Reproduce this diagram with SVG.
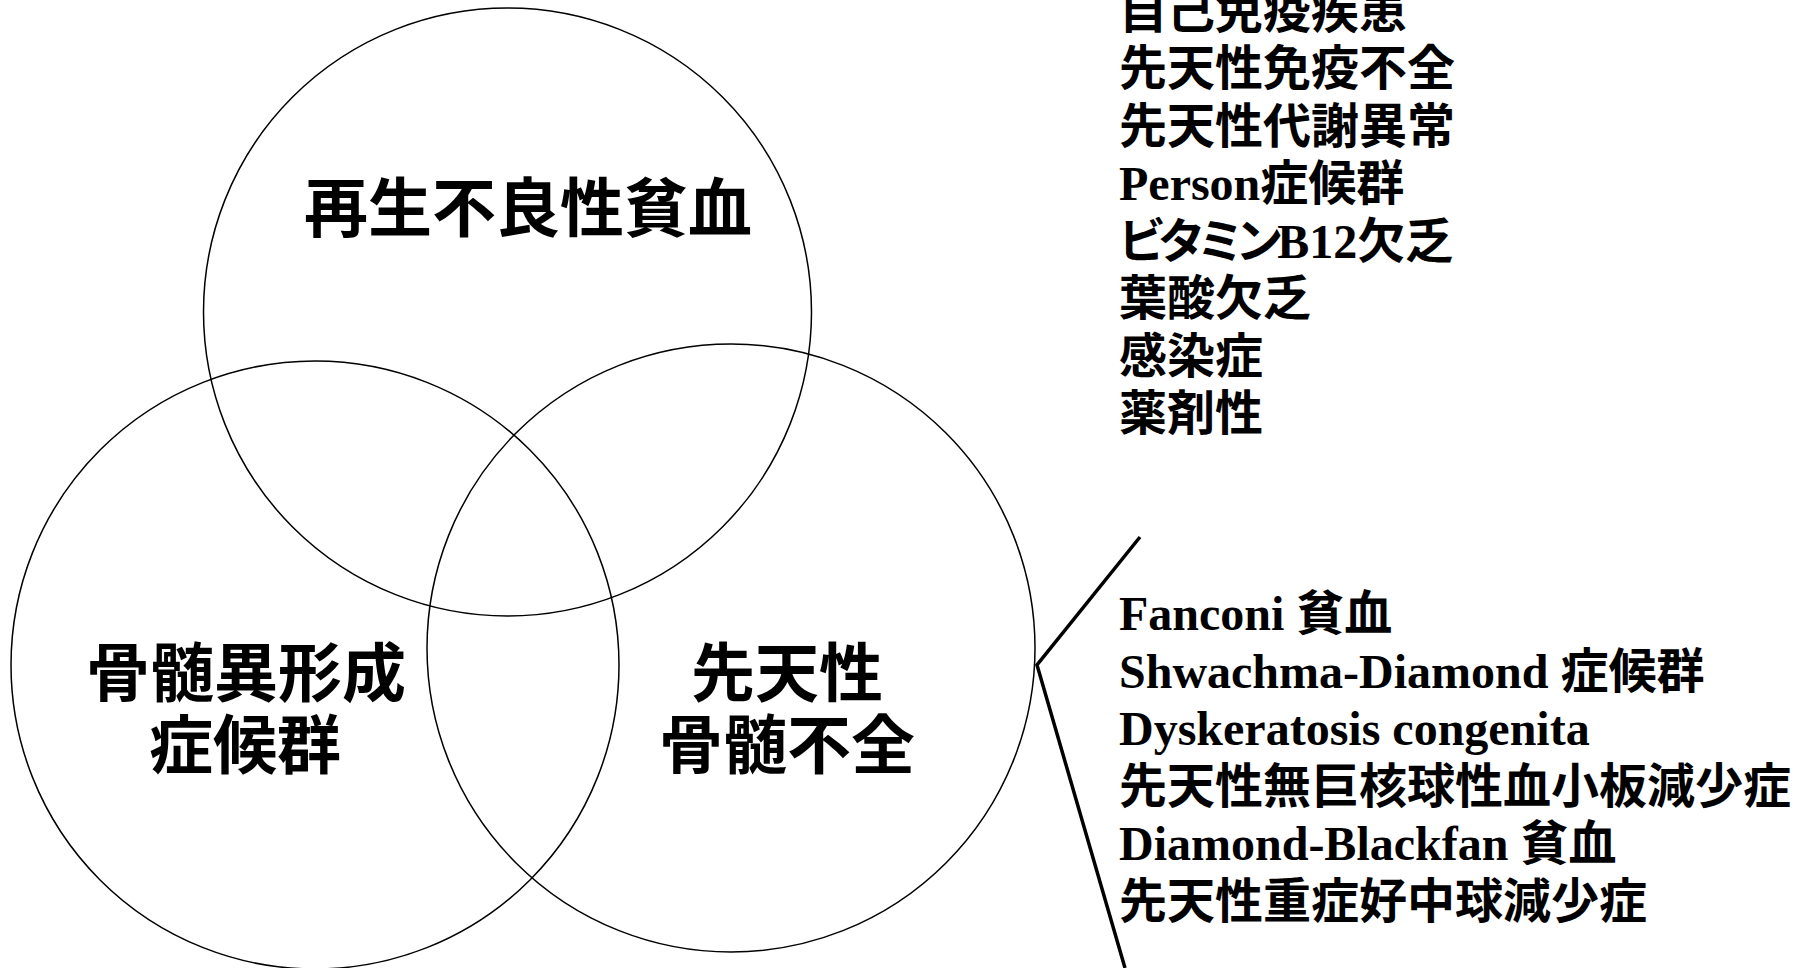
<svg xmlns="http://www.w3.org/2000/svg" width="1803" height="968" viewBox="0 0 1803 968">
<style>
.circ{fill:none;stroke:#000;stroke-width:1.5}
.lbl{font-family:"Noto Sans CJK JP","Noto Sans CJK SC",sans-serif;font-weight:bold;font-size:64px;fill:#000;text-anchor:middle}
.lst{font-family:"Liberation Serif","Noto Sans CJK JP",serif;font-weight:bold;font-size:48px;fill:#000}
.kana{font-feature-settings:"palt" 1;letter-spacing:-4px}
.br{fill:none;stroke:#000;stroke-width:3.5;stroke-linejoin:miter}
</style>
<rect width="1803" height="968" fill="#fff"/>
<g id="aplastic-anemia">
<circle class="circ" cx="507.5" cy="312" r="304"/>
<text class="lbl" x="528" y="231">再生不良性貧血</text>
</g>
<g id="mds">
<circle class="circ" cx="315" cy="665" r="304"/>
<text class="lbl" x="246" y="696">骨髄異形成</text>
<text class="lbl" x="245" y="768">症候群</text>
</g>
<g id="congenital-bmf">
<circle class="circ" cx="731" cy="648" r="304"/>
<text class="lbl" x="787" y="696">先天性</text>
<text class="lbl" x="787" y="768">骨髄不全</text>
</g>
<g id="other-causes">
<text class="lst" x="1119" y="27.5">自己免疫疾患</text>
<text class="lst" x="1119" y="85">先天性免疫不全</text>
<text class="lst" x="1119" y="142.5">先天性代謝異常</text>
<text class="lst" x="1119" y="200">Person症候群</text>
<text class="lst" x="1119" y="257.5"><tspan class="kana">ビタミン</tspan>B12欠乏</text>
<text class="lst" x="1119" y="315">葉酸欠乏</text>
<text class="lst" x="1119" y="372.5">感染症</text>
<text class="lst" x="1119" y="430">薬剤性</text>
</g>
<g id="congenital-list">
<text class="lst" x="1119" y="630">Fanconi 貧血</text>
<text class="lst" x="1119" y="687.5">Shwachma-Diamond 症候群</text>
<text class="lst" x="1119" y="745">Dyskeratosis congenita</text>
<text class="lst" x="1119" y="802.5">先天性無巨核球性血小板減少症</text>
<text class="lst" x="1119" y="860">Diamond-Blackfan 貧血</text>
<text class="lst" x="1119" y="917.5">先天性重症好中球減少症</text>
</g>
<g id="connectors">
<polyline class="br" points="1140,537 1037,665 1125,968"/>
</g>
</svg>
